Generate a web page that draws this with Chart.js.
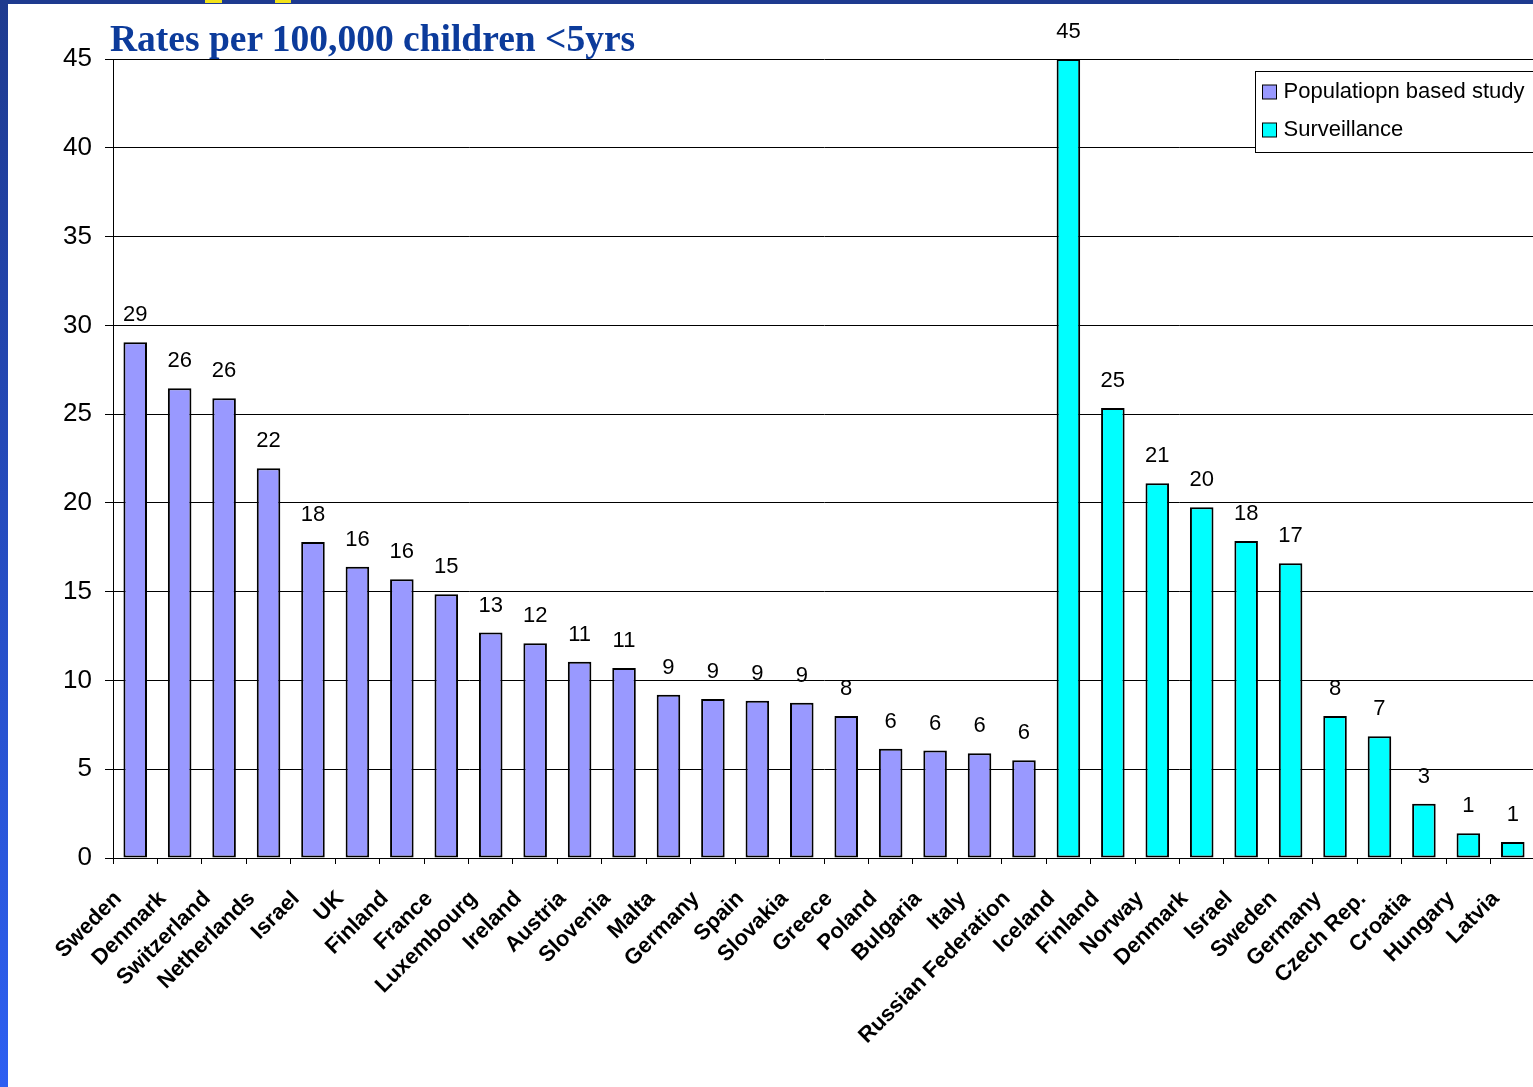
<!DOCTYPE html>
<html>
<head>
<meta charset="utf-8">
<script src="https://cdn.jsdelivr.net/npm/chart.js@4/dist/chart.umd.min.js"></script>
<style>
html, body { margin: 0; padding: 0; background: #fff; overflow: hidden; }
#wrap { position: relative; width: 1533px; height: 1087px; overflow: hidden; }
#side { position: absolute; left: 0; top: 0; width: 8px; height: 1087px; background: linear-gradient(#1e3a8f, #2d5ff2); z-index: 2; }
#topbar { position: absolute; left: 0; top: 0; width: 1533px; height: 4px; background: #1e3a8f; z-index: 2; }
.mark { position: absolute; top: 0; height: 3px; background: #f2e21a; z-index: 3; }
#title { position: absolute; left: 110px; top: 20px; font: bold 37.5px/37.5px "Liberation Serif", "Times New Roman", serif; color: #0c3b9b; white-space: nowrap; z-index: 2; }
#chartBox { position: absolute; left: 0; top: 0; width: 1535px; height: 1087px; }
</style>
</head>
<body>
<div id="wrap">
  <div id="chartBox"><canvas id="ratesChart"></canvas></div>
  <div id="side"></div>
  <div id="topbar"></div>
  <div class="mark" style="left:205px;width:17px"></div>
  <div class="mark" style="left:275px;width:16px"></div>
  <div id="title">Rates per 100,000 children &lt;5yrs</div>
</div>
<script>
// countries along the x axis, population studies first, then surveillance
const countries = [
    'Sweden', 'Denmark', 'Switzerland', 'Netherlands', 'Israel', 'UK', 'Finland', 'France',
    'Luxembourg', 'Ireland', 'Austria', 'Slovenia', 'Malta', 'Germany', 'Spain', 'Slovakia',
    'Greece', 'Poland', 'Bulgaria', 'Italy', 'Russian Federation',
    'Iceland', 'Finland', 'Norway', 'Denmark', 'Israel', 'Sweden', 'Germany', 'Czech Rep.',
    'Croatia', 'Hungary', 'Latvia'
];
const populationStudy = [
    29.05, 26.45, 25.9, 21.95, 17.8, 16.4, 15.7, 14.85, 12.7, 12.1, 11.05, 10.7,
    9.2, 8.95, 8.85, 8.75, 8.0, 6.15, 6.05, 5.9, 5.5,
    null, null, null, null, null, null, null, null, null, null, null
];
const surveillance = [
    null, null, null, null, null, null, null, null, null, null, null, null,
    null, null, null, null, null, null, null, null, null,
    45, 25.35, 21.1, 19.75, 17.85, 16.6, 8.0, 6.85, 3.05, 1.4, 0.9
];
const yTicks = [0, 5, 10, 15, 20, 25, 30, 35, 40, 45];
const seriesNames = ['Populatiopn based study', 'Surveillance'];

const FONT = '"Liberation Sans", Arial, sans-serif';

// rounded value printed over each bar
const valueLabels = {
    id: 'valueLabels',
    afterDatasetsDraw(chart) {
        const ctx = chart.ctx;
        ctx.save();
        ctx.font = '22px ' + FONT;
        ctx.fillStyle = '#000';
        ctx.textAlign = 'center';
        ctx.textBaseline = 'alphabetic';
        chart.data.datasets.forEach((ds, i) => {
            chart.getDatasetMeta(i).data.forEach((bar, j) => {
                const v = ds.data[j];
                if (v === null) return;
                ctx.fillText(String(Math.round(v)), bar.x, bar.y - 21);
            });
        });
        ctx.restore();
    }
};

// boxed legend in the upper right of the plot
const boxLegend = {
    id: 'boxLegend',
    afterDatasetsDraw(chart) {
        const ctx = chart.ctx;
        const area = chart.chartArea;
        const left = 1255.5, top = 71.5;
        ctx.save();
        ctx.fillStyle = '#fff';
        ctx.strokeStyle = '#000';
        ctx.lineWidth = 1;
        ctx.fillRect(left, top, area.right - left + 20, 81);
        ctx.strokeRect(left, top, area.right - left + 20, 81);
        ctx.font = '22px ' + FONT;
        ctx.textBaseline = 'middle';
        ctx.textAlign = 'left';
        chart.data.datasets.forEach((ds, i) => {
            const cy = 92 + i * 38;
            ctx.fillStyle = ds.backgroundColor;
            ctx.fillRect(left + 7, cy - 7, 14, 14);
            ctx.strokeRect(left + 7, cy - 7, 14, 14);
            ctx.fillStyle = '#000';
            ctx.fillText(ds.label, left + 28, cy);
        });
        ctx.restore();
    }
};

new Chart(document.getElementById('ratesChart'), {
    type: 'bar',
    data: {
        labels: countries,
        datasets: [
            { label: seriesNames[0], data: populationStudy, backgroundColor: '#9999ff', borderColor: '#000', borderWidth: 2, borderSkipped: false },
            { label: seriesNames[1], data: surveillance, backgroundColor: '#00ffff', borderColor: '#000', borderWidth: 2, borderSkipped: false }
        ]
    },
    options: {
        responsive: true,
        maintainAspectRatio: false,
        animation: false,
        layout: { padding: { top: 59, left: 10, right: 0, bottom: 0 } },
        datasets: { bar: { barPercentage: 0.53, categoryPercentage: 1 } },
        plugins: { legend: { display: false }, tooltip: { enabled: false } },
        scales: {
            x: {
                stacked: true,
                afterFit: s => {
                    s.height = 1087 - 858;
                    s.paddingLeft = 0;
                    s.paddingRight = 0;
                },
                grid: { drawOnChartArea: false, drawTicks: true, tickLength: 6, color: '#000', offset: true },
                border: { display: true, color: '#000', width: 1 },
                ticks: {
                    autoSkip: false, maxRotation: 45, minRotation: 45, padding: 22, labelOffset: -17,
                    color: '#000', font: { family: FONT, size: 22, weight: 'bold' }
                }
            },
            y: {
                stacked: true,
                min: yTicks[0], max: yTicks[yTicks.length - 1],
                afterFit: s => { s.width = 113 - 10; },
                afterBuildTicks: s => { s.ticks = yTicks.map(v => ({ value: v })); },
                grid: { color: '#000', lineWidth: 1, tickLength: 8 },
                border: { display: true, color: '#000', width: 1 },
                ticks: { padding: 13, color: '#000', font: { family: FONT, size: 26 } }
            }
        }
    },
    plugins: [valueLabels, boxLegend]
});
</script>
</body>
</html>
